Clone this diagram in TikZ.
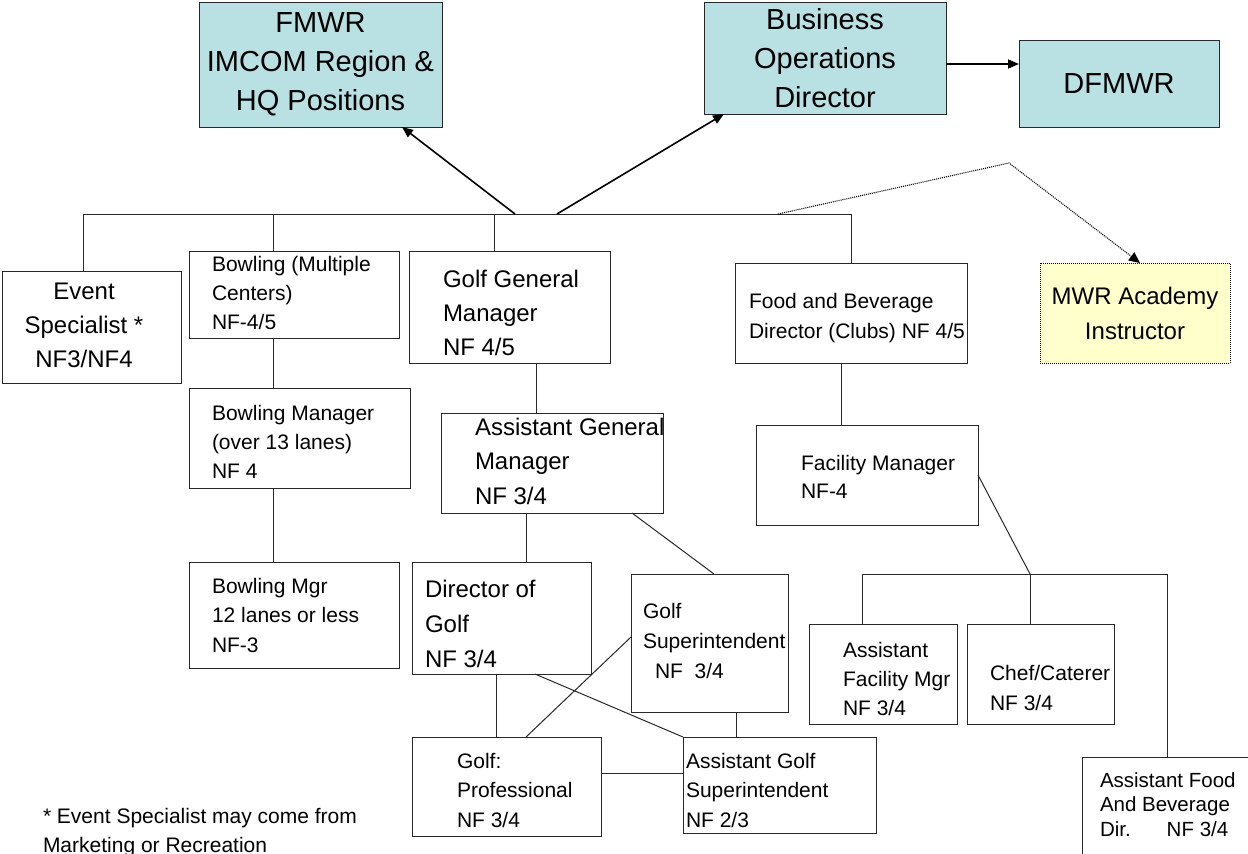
\documentclass[tikz,border=0pt]{standalone}
\usepackage{fontspec}
\setmainfont{Liberation Sans}
\usetikzlibrary{arrows.meta}
\definecolor{cyanfill}{RGB}{185,224,227}
\definecolor{yelfill}{RGB}{255,255,204}
\definecolor{ln}{RGB}{40,40,40}
\newcommand{\fsA}{\fontsize{29}{39}\selectfont}
\newcommand{\fsB}{\fontsize{24}{35}\selectfont}
\newcommand{\fsC}{\fontsize{21}{29.5}\selectfont}
\newcommand{\fsD}{\fontsize{20.5}{24.5}\selectfont}
\newcommand{\ltext}[2]{\vtop{\baselineskip=#1\relax\lineskiplimit=-\maxdimen\halign{##\hfil\cr#2\crcr}}}
\newcommand{\ctext}[2]{\vtop{\baselineskip=#1\relax\lineskiplimit=-\maxdimen\halign{\hfil##\hfil\cr#2\crcr}}}
\begin{document}
\begin{tikzpicture}[x=1pt,y=-1pt,
  box/.style={draw=ln, line width=1pt, inner sep=0pt, outer sep=0pt, anchor=north west},
  topbox/.style={box, fill=cyanfill, font=\fsA, align=center},
  conn/.style={draw=ln, line width=1pt},
  arr/.style={draw=black, line width=1.6pt, -{Triangle[length=11pt,width=9pt]}},
  fine dots/.style={dash pattern=on 1pt off 1pt},
  dotarr/.style={draw=black, line width=1.1pt, fine dots, -{Triangle[length=11pt,width=10pt]}},
  ltxt/.style={inner sep=0pt, outer sep=0pt, anchor=base west},
  ctxt/.style={inner sep=0pt, outer sep=0pt, anchor=base}]
\useasboundingbox (0,0) rectangle (1248,854);
\clip (0,0) rectangle (1248,854);
\fill[white] (0,0) rectangle (1248,854);

% top boxes
\node[topbox, minimum width=243pt, minimum height=125pt] (fmwr) at (199,2) {FMWR\\IMCOM Region \&\\HQ Positions};
\node[topbox, minimum width=242pt, minimum height=112pt] (bus) at (704,2) {Business\\Operations\\Director};
\node[topbox, minimum width=200pt, minimum height=87pt] (dfmwr) at (1019,40) {DFMWR};
\node[box, draw=black, fine dots, fill=yelfill, font=\fsB, align=center, minimum width=190pt, minimum height=100pt] (mwr) at (1040,263) {MWR Academy\\Instructor};

% boxes
\node[box, minimum width=179pt, minimum height=112pt] (event) at (2,271) {};
\node[box, minimum width=210pt, minimum height=87pt] (bowl) at (189,251) {};
\node[box, minimum width=221pt, minimum height=100pt] (bowlmgr) at (189,388) {};
\node[box, minimum width=210pt, minimum height=106pt] (bowl12) at (189,562) {};
\node[box, minimum width=201pt, minimum height=112pt] (golfgm) at (409,251) {};
\node[box, minimum width=222pt, minimum height=100pt] (agm) at (441,413) {};
\node[box, minimum width=179pt, minimum height=112pt] (dog) at (412,562) {};
\node[box, minimum width=157pt, minimum height=138pt] (gs) at (631,574) {};
\node[box, minimum width=189pt, minimum height=99pt] (prof) at (412,737) {};
\node[box, minimum width=193pt, minimum height=96pt] (ags) at (683,737) {};
\node[box, minimum width=232pt, minimum height=100pt] (food) at (735,263) {};
\node[box, minimum width=222pt, minimum height=100pt] (fac) at (756,425) {};
\node[box, minimum width=148pt, minimum height=100pt] (afac) at (809,624) {};
\node[box, minimum width=147pt, minimum height=100pt] (chef) at (967,624) {};
\node[box, minimum width=188pt, minimum height=123pt] (afood) at (1082,757) {};

% texts
\node[ctxt, font=\fsB] (event-t) at (84,299) {\ctext{34pt}{Event\cr Specialist *\cr NF3/NF4}};
\node[ltxt, font=\fsC] (bowl-t) at (212,271) {\ltext{29pt}{Bowling (Multiple\cr Centers)\cr NF-4/5}};
\node[ltxt, font=\fsC] (bowlmgr-t) at (212,420) {\ltext{29pt}{Bowling Manager\cr (over 13 lanes)\cr NF 4}};
\node[ltxt, font=\fsC] (bowl12-t) at (212,593) {\ltext{29.5pt}{Bowling Mgr\cr 12 lanes or less\cr NF-3}};
\node[ltxt, font=\fsB] (golfgm-t) at (443,287) {\ltext{34pt}{Golf General\cr Manager\cr NF 4/5}};
\node[ltxt, font=\fsB] (agm-t) at (475,435) {\ltext{34.5pt}{Assistant General\cr Manager\cr NF 3/4}};
\node[ltxt, font=\fsB] (dog-t) at (425,597) {\ltext{35pt}{Director of\cr Golf\cr NF 3/4}};
\node[ltxt, font=\fsC] (gs-t) at (643,618) {\ltext{30pt}{Golf\cr Superintendent\cr \hskip12pt NF\ \ 3/4}};
\node[ltxt, font=\fsC] (prof-t) at (457,768) {\ltext{29.5pt}{Golf:\cr Professional\cr NF 3/4}};
\node[ltxt, font=\fsC] (ags-t) at (686,768) {\ltext{29.5pt}{Assistant Golf\cr Superintendent\cr NF 2/3}};
\node[ltxt, font=\fsC] (food-t) at (749,308) {\ltext{30pt}{Food and Beverage\cr Director (Clubs) NF 4/5}};
\node[ltxt, font=\fsC] (fac-t) at (801,470) {\ltext{28pt}{Facility Manager\cr NF-4}};
\node[ltxt, font=\fsC] (afac-t) at (843,657) {\ltext{29pt}{Assistant\cr Facility Mgr\cr NF 3/4}};
\node[ltxt, font=\fsC] (chef-t) at (990,680) {\ltext{30pt}{Chef/Caterer\cr NF 3/4}};
\node[ltxt, font=\fsD] (afood-t) at (1100,787) {\ltext{24.5pt}{Assistant Food\cr And Beverage\cr Dir.\hskip36pt NF 3/4}};
\node[ltxt, font=\fsC] (note) at (43,823) {\ltext{29pt}{* Event Specialist may come from\cr Marketing or Recreation}};

% bus
\coordinate (busL) at (83,214);
\coordinate (busR) at (851,214);
\coordinate (bB) at (273,214);
\coordinate (bG) at (494,214);
\coordinate (a1) at (515,214);
\coordinate (a2) at (557,214);
\coordinate (d0) at (778,214);
\coordinate (d1) at (1009,163);
\draw[conn] (busL) -- (busR);
\draw[conn] (busL) -- (busL |- event.north);
\draw[conn] (bB) -- (bB |- bowl.north);
\draw[conn] (bB |- bowl.south) -- (bB |- bowlmgr.north);
\draw[conn] (bB |- bowlmgr.south) -- (bB |- bowl12.north);
\draw[conn] (bG) -- (bG |- golfgm.north);
\draw[conn] (busR) -- (busR |- food.north);

% arrows to top
\draw[arr] (a1) -- ([xshift=203pt]fmwr.south west);
\draw[arr] (a2) -- ([xshift=20pt]bus.south west);
\draw[arr] ([yshift=-6pt]bus.east) -- ([yshift=-6pt]bus.east -| dfmwr.west);
\draw[dotarr] (d0) -- (d1) -- ([xshift=100pt]mwr.north west);

% golf
\draw[conn] ([xshift=127pt]golfgm.south west) -- ([xshift=95pt]agm.north west);
\draw[conn] ([xshift=85pt]agm.south west) -- ([xshift=114pt]dog.north west);
\draw[conn] ([xshift=191pt]agm.south west) -- ([xshift=83pt]gs.north west);
\draw[conn] ([xshift=84pt]dog.south west) -- ([xshift=84pt]prof.north west);
\draw[conn] ([xshift=123pt]dog.south west) -- (ags.north west);
\draw[conn] ([yshift=6pt]gs.west) -- ([xshift=114pt]prof.north west);
\draw[conn] ([xshift=105pt]gs.south west) -- ([xshift=53pt]ags.north west);
\draw[conn] ([yshift=13.5pt]prof.east) -- ([yshift=13.5pt]prof.east -| ags.west);

% food
\coordinate (brk) at (1030,574);
\coordinate (brkR) at (1167,574);
\draw[conn] ([xshift=106pt]food.south west) -- ([xshift=85pt]fac.north west);
\draw[conn] (fac.east) -- (brk);
\draw[conn] ([xshift=53pt]afac.north west) |- (brkR) -- ([xshift=85pt]afood.north west);
\draw[conn] (brk) -- (brk |- chef.north);
\end{tikzpicture}
\end{document}
